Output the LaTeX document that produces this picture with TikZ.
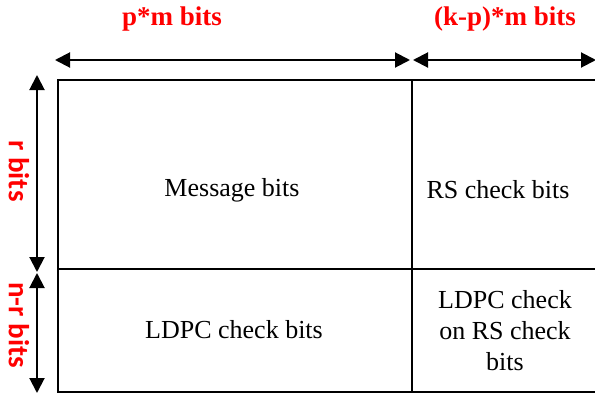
\documentclass[tikz,border=0pt]{standalone}
\usepackage{fontspec}
\setmainfont{Liberation Serif}
\newfontfamily\sidefont{Carlito}
\usetikzlibrary{arrows.meta}
\begin{document}
\begin{tikzpicture}[x=1pt,y=-1pt,
  cell/.style={draw=black,line width=2pt},
  celltext/.style={font=\fontsize{26}{31}\selectfont,align=center,inner sep=0pt},
  toplabel/.style={text=red,font=\fontsize{27}{30}\selectfont\bfseries,inner sep=0pt},
  sidelabel/.style={text=red,font=\sidefont\fontsize{29}{30}\selectfont\bfseries,inner sep=0pt,rotate=-90},
  dim/.style={line width=2pt,{Triangle[length=15pt,width=15pt]}-{Triangle[length=15pt,width=15pt]}}]
\useasboundingbox (0,0) rectangle (595,394);
% table
\draw[cell] (58,80) rectangle (610,392);
\draw[cell] (412,80) -- (412,392);
\draw[cell] (58,269) -- (610,269);
% cell texts
\node[celltext] (msg) at (232,190) {Message bits};
\node[celltext] (rs) at (498,190) {RS check bits};
\node[celltext] (ldpc) at (234,330) {LDPC check bits};
\node[celltext] (ldpcrs) at (505,331) {LDPC check\\on RS check\\bits};
% dimension coordinates
\coordinate (h1) at (55,60);
\coordinate (h2) at (410,60);
\coordinate (h3) at (413,60);
\coordinate (h4) at (596,60);
\coordinate (v1) at (37,75);
\coordinate (v2) at (37,272);
\coordinate (v3) at (37,273);
\coordinate (v4) at (37,393);
\draw[dim] (h1) -- (h2);
\draw[dim] (h3) -- (h4);
\draw[dim] (v1) -- (v2);
\draw[dim] (v3) -- (v4);
% labels
\node[toplabel] (pm) at (172,19) {p*m bits};
\node[toplabel] (kpm) at (505,19) {(k-p)*m bits};
\node[sidelabel] (rb) at (19,171) {r bits};
\node[sidelabel] (nrb) at (19,325) {n-r bits};
\end{tikzpicture}
\end{document}
